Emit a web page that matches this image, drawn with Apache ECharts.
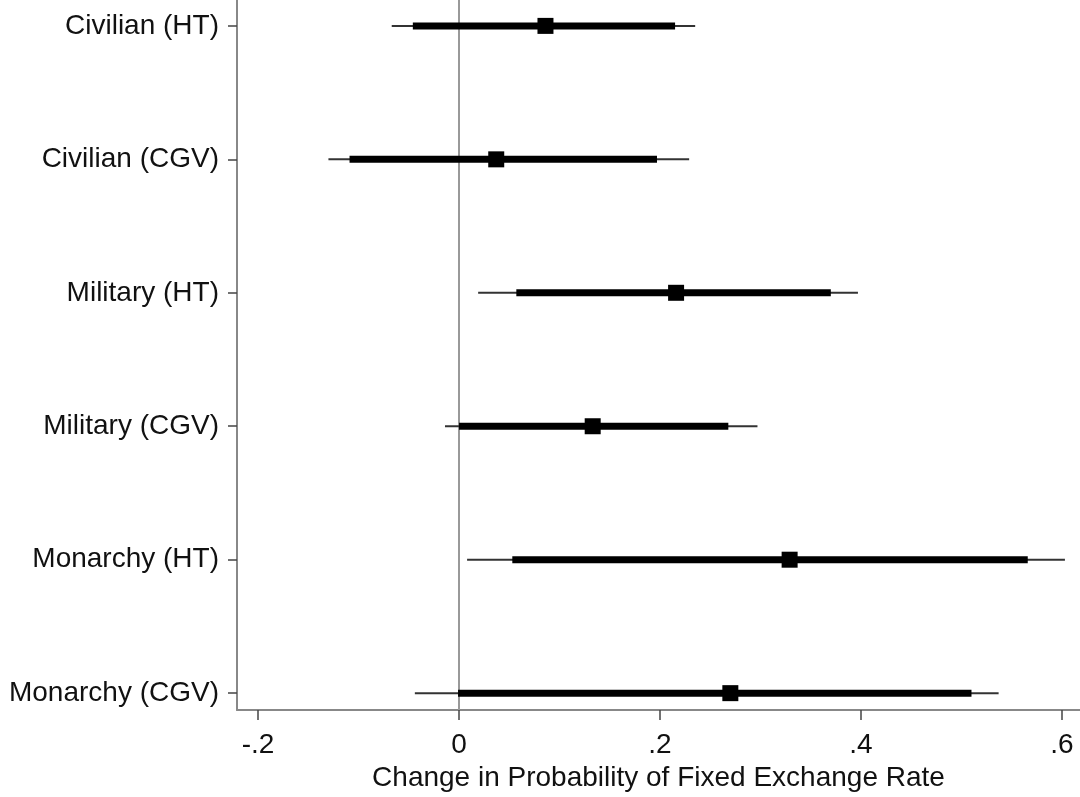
<!DOCTYPE html>
<html>
<head>
<meta charset="utf-8">
<title>Change in Probability of Fixed Exchange Rate</title>
<script src="https://cdn.jsdelivr.net/npm/echarts@6/dist/echarts.min.js"></script>
<style>
  html, body { margin: 0; padding: 0; background: #fff; }
  #chart { width: 1080px; height: 797px; }
</style>
</head>
<body>
<div id="chart"></div>
<script>
// regime labels, top to bottom
const labels = ['Civilian (HT)', 'Civilian (CGV)', 'Military (HT)', 'Military (CGV)', 'Monarchy (HT)', 'Monarchy (CGV)'];
// point estimates
const estimate = [0.086, 0.037, 0.216, 0.133, 0.329, 0.270];
// outer interval (thin line)
const outerLow = [-0.067, -0.130, 0.019, -0.014, 0.008, -0.044];
const outerHigh = [0.235, 0.229, 0.397, 0.297, 0.603, 0.537];
// inner interval (thick line)
const innerLow = [-0.046, -0.109, 0.057, 0.000, 0.053, -0.001];
const innerHigh = [0.215, 0.197, 0.370, 0.268, 0.566, 0.510];
// x tick labels
const xTicks = [-0.2, 0, 0.2, 0.4, 0.6];
const xTickLabels = ['-.2', '0', '.2', '.4', '.6'];

const fontFamily = '"Liberation Sans", Arial, Helvetica, sans-serif';
const n = labels.length;

// row position: top row gets highest y value
const rows = labels.map(function (name, i) {
    return [n - 1 - i, outerLow[i], innerLow[i], estimate[i], innerHigh[i], outerHigh[i]];
});

function renderRow(params, api) {
    const y = api.value(0);
    const a = api.coord([api.value(1), y]);
    const b = api.coord([api.value(2), y]);
    const c = api.coord([api.value(3), y]);
    const d = api.coord([api.value(4), y]);
    const e = api.coord([api.value(5), y]);
    const sq = 16;
    return {
        type: 'group',
        children: [
            {
                type: 'line',
                shape: { x1: a[0], y1: a[1], x2: e[0], y2: e[1] },
                style: { stroke: '#333', lineWidth: 2 }
            },
            {
                type: 'line',
                shape: { x1: b[0], y1: b[1], x2: d[0], y2: d[1] },
                style: { stroke: '#000', lineWidth: 7, lineCap: 'butt' }
            },
            {
                type: 'rect',
                shape: { x: c[0] - sq / 2, y: c[1] - sq / 2, width: sq, height: sq },
                style: { fill: '#000' }
            }
        ]
    };
}

const chart = echarts.init(document.getElementById('chart'));

const option = {
    backgroundColor: '#fff',
    animation: false,
    textStyle: { fontFamily: fontFamily },
    grid: { left: 237, right: 0, top: 0, bottom: 85 },
    xAxis: {
        type: 'value',
        min: -0.221,
        max: 0.618,
        name: 'Change in Probability of Fixed Exchange Rate',
        nameLocation: 'middle',
        nameGap: 49,
        nameTextStyle: { color: '#111', fontSize: 28, fontFamily: fontFamily },
        axisLine: { show: true, onZero: false, lineStyle: { color: '#888', width: 2 } },
        axisTick: {
            show: true,
            customValues: xTicks,
            length: 10,
            lineStyle: { color: '#444', width: 1.5 }
        },
        axisLabel: {
            customValues: xTicks,
            margin: 21,
            color: '#111',
            fontSize: 28,
            fontFamily: fontFamily,
            formatter: function (v) {
                const k = xTicks.findIndex(function (t) { return Math.abs(t - v) < 1e-9; });
                return k >= 0 ? xTickLabels[k] : '';
            }
        },
        splitLine: { show: false }
    },
    yAxis: {
        type: 'value',
        min: -0.127,
        max: 5.194,
        axisLine: { show: true, onZero: false, lineStyle: { color: '#888', width: 2 } },
        axisTick: {
            show: true,
            customValues: [0, 1, 2, 3, 4, 5],
            length: 9,
            lineStyle: { color: '#444', width: 1.5 }
        },
        axisLabel: {
            customValues: [0, 1, 2, 3, 4, 5],
            margin: 18,
            color: '#111',
            fontSize: 28,
            fontFamily: fontFamily,
            formatter: function (v) {
                return labels[n - 1 - Math.round(v)];
            }
        },
        splitLine: { show: false }
    },
    series: [
        {
            type: 'custom',
            renderItem: renderRow,
            encode: { x: [1, 2, 3, 4, 5], y: 0 },
            data: rows,
            z: 3,
            markLine: {
                silent: true,
                symbol: 'none',
                z: 1,
                label: { show: false },
                lineStyle: { color: '#999', width: 2, type: 'solid' },
                data: [{ xAxis: 0 }]
            }
        }
    ]
};

chart.setOption(option);

window.addEventListener('resize', function () {
    chart.resize();
});
</script>
</body>
</html>
